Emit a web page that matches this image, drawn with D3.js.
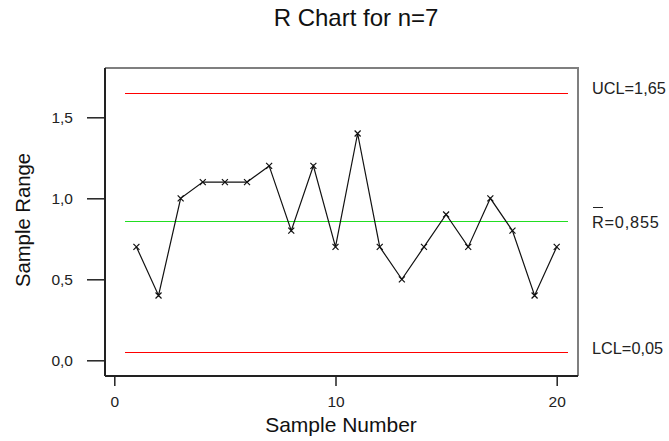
<!DOCTYPE html>
<html>
<head>
<meta charset="utf-8">
<script src="https://cdn.jsdelivr.net/npm/d3@7"></script>
<style>
  html, body { margin: 0; padding: 0; background: #fff; }
  svg { display: block; font-family: "Liberation Sans", Arial, sans-serif; }
</style>
</head>
<body>
<svg id="chart" width="669" height="441"></svg>
<script>
// Sample ranges for subgroups of size 7
const samples = [1, 2, 3, 4, 5, 6, 7, 8, 9, 10, 11, 12, 13, 14, 15, 16, 17, 18, 19, 20];
const ranges = [0.7, 0.4, 1.0, 1.1, 1.1, 1.1, 1.2, 0.8, 1.2, 0.7, 1.4, 0.7, 0.5, 0.7, 0.9, 0.7, 1.0, 0.8, 0.4, 0.7];

// Control limits
const ucl = 1.65;
const centre = 0.855;
const lcl = 0.05;

const xTicks = [0, 10, 20];
const yTicks = [0, 0.5, 1.0, 1.5];

const svg = d3.select("#chart");
const plotLeft = 105, plotRight = 578, plotTop = 68, plotBottom = 376;
const font = "Liberation Sans, Arial, sans-serif";

const x = d3.scaleLinear().domain([0, 20]).range([114.3, 556.7]);
const y = d3.scaleLinear().domain([0, 1.5]).range([360.3, 117.3]);
const fmt = d => d3.format(".1f")(d).replace(".", ",");

// Frame: grey top and right edges
svg.append("path")
  .attr("d", `M${plotLeft},${plotTop}H${plotRight}V${plotBottom}`)
  .attr("fill", "none").attr("stroke", "#7f7f7f").attr("stroke-width", 2);

// Axes
const yAxis = d3.axisLeft(y).tickValues(yTicks).tickFormat(fmt).tickSize(18).tickPadding(14);
const gy = svg.append("g").attr("transform", `translate(${plotLeft},0)`).call(yAxis);
gy.select(".domain").attr("d", `M0,${plotTop}V${plotBottom}`).attr("stroke", "#222").attr("stroke-width", 2);

const xAxis = d3.axisBottom(x).tickValues(xTicks).tickFormat(d3.format("d")).tickSize(10).tickPadding(10);
const gx = svg.append("g").attr("transform", `translate(0,${plotBottom})`).call(xAxis);
gx.select(".domain").attr("d", `M${plotLeft},0H${plotRight}`).attr("stroke", "#222").attr("stroke-width", 2);

svg.selectAll(".tick line").attr("stroke", "#222").attr("stroke-width", 1.5);
svg.selectAll(".tick text").attr("font-size", 15.5).attr("fill", "#222").attr("font-family", font);

// Control limit lines
const limits = [
  { v: ucl, color: "#ff0000" },
  { v: centre, color: "#22dd22" },
  { v: lcl, color: "#ff0000" }
];
svg.selectAll("line.limit").data(limits).enter().append("line")
  .attr("class", "limit")
  .attr("x1", x(0.5)).attr("x2", x(20.5))
  .attr("y1", d => y(d.v)).attr("y2", d => y(d.v))
  .attr("stroke", d => d.color).attr("stroke-width", 1)
  .attr("shape-rendering", "crispEdges");

// Range line
const line = d3.line().x((d, i) => x(samples[i])).y(d => y(d));
svg.append("path").datum(ranges)
  .attr("d", line).attr("fill", "none").attr("stroke", "#111").attr("stroke-width", 1.2);

// Cross markers
const s = 3;
svg.selectAll("path.mark").data(ranges).enter().append("path")
  .attr("class", "mark")
  .attr("d", (d, i) => {
    const cx = x(samples[i]), cy = y(d);
    return `M${cx - s},${cy - s}L${cx + s},${cy + s}M${cx - s},${cy + s}L${cx + s},${cy - s}`;
  })
  .attr("stroke", "#111").attr("stroke-width", 1.2);

// Limit labels
const lx = 592;
const labelSize = 16.3;
svg.append("text").attr("x", lx).attr("y", y(ucl) + 0.5)
  .attr("font-size", labelSize).attr("fill", "#222").text("UCL=1,65");
svg.append("text").attr("x", lx).attr("y", y(centre) + 6)
  .attr("font-size", labelSize).attr("fill", "#222").attr("letter-spacing", 0.8).text("R=0,855");
svg.append("line").attr("x1", lx + 0.5).attr("x2", lx + 11)
  .attr("y1", y(centre) - 14.5).attr("y2", y(centre) - 14.5)
  .attr("stroke", "#222").attr("stroke-width", 1)
  .attr("shape-rendering", "crispEdges");
svg.append("text").attr("x", lx).attr("y", y(lcl) + 1.5)
  .attr("font-size", labelSize).attr("fill", "#222").text("LCL=0,05");

// Titles
svg.append("text").attr("x", 356).attr("y", 26).attr("text-anchor", "middle")
  .attr("font-size", 24).attr("fill", "#111").text("R Chart for n=7");
svg.append("text").attr("x", 341).attr("y", 432).attr("text-anchor", "middle")
  .attr("font-size", 21).attr("fill", "#111").text("Sample Number");
svg.append("text").attr("transform", "translate(30,220) rotate(-90)").attr("text-anchor", "middle")
  .attr("font-size", 20.3).attr("fill", "#111").text("Sample Range");
</script>
</body>
</html>
